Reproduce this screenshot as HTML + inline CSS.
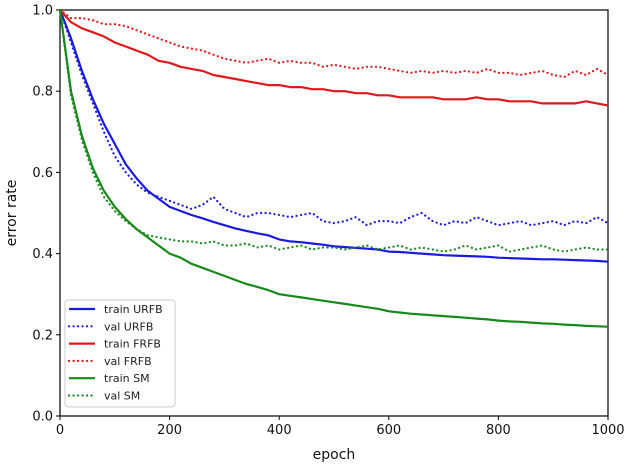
<!DOCTYPE html>
<html><head><meta charset="utf-8"><style>
html,body{margin:0;padding:0;background:#fff;}
svg{display:block;font-family:"DejaVu Sans","Liberation Sans",sans-serif;}
</style></head><body>
<svg id="chart" width="630" height="467">
<g id="axes"></g>
<g id="series"></g>
<g id="legend"></g>
</svg>
<script>
const xTicks=[0,200,400,600,800,1000];
const yTicks=[0.0,0.2,0.4,0.6,0.8,1.0];
const yTickLabels=["0.0","0.2","0.4","0.6","0.8","1.0"];
const epochStep=20;
const trainURFB=[1.0,0.93,0.85,0.78,0.72,0.67,0.62,0.585,0.555,0.535,0.515,0.505,0.495,0.487,0.478,0.47,0.462,0.456,0.45,0.445,0.435,0.43,0.428,0.425,0.422,0.418,0.416,0.414,0.412,0.41,0.405,0.404,0.402,0.4,0.398,0.396,0.395,0.394,0.393,0.392,0.39,0.389,0.388,0.387,0.386,0.386,0.385,0.384,0.383,0.382,0.38];
const valURFB=[1.0,0.92,0.84,0.77,0.70,0.64,0.6,0.57,0.55,0.54,0.53,0.52,0.51,0.52,0.54,0.51,0.5,0.49,0.5,0.5,0.495,0.49,0.495,0.5,0.48,0.475,0.48,0.49,0.47,0.48,0.48,0.475,0.49,0.5,0.48,0.47,0.48,0.475,0.49,0.48,0.47,0.475,0.48,0.47,0.475,0.48,0.47,0.48,0.475,0.49,0.475];
const trainFRFB=[1.0,0.97,0.955,0.945,0.935,0.92,0.91,0.9,0.89,0.875,0.87,0.86,0.855,0.85,0.84,0.835,0.83,0.825,0.82,0.815,0.815,0.81,0.81,0.805,0.805,0.8,0.8,0.795,0.795,0.79,0.79,0.785,0.785,0.785,0.785,0.78,0.78,0.78,0.785,0.78,0.78,0.775,0.775,0.775,0.77,0.77,0.77,0.77,0.775,0.77,0.765];
const valFRFB=[1.0,0.98,0.98,0.975,0.965,0.965,0.96,0.95,0.94,0.93,0.92,0.91,0.905,0.9,0.89,0.88,0.875,0.87,0.875,0.88,0.87,0.875,0.87,0.87,0.86,0.865,0.86,0.855,0.86,0.86,0.855,0.85,0.845,0.85,0.845,0.85,0.845,0.85,0.845,0.855,0.845,0.845,0.84,0.845,0.85,0.84,0.835,0.85,0.84,0.855,0.84];
const trainSM=[1.0,0.80,0.69,0.61,0.555,0.515,0.485,0.46,0.44,0.42,0.40,0.39,0.375,0.365,0.355,0.345,0.335,0.325,0.318,0.31,0.30,0.296,0.292,0.288,0.284,0.28,0.276,0.272,0.268,0.264,0.258,0.255,0.252,0.25,0.248,0.246,0.244,0.242,0.24,0.238,0.235,0.233,0.232,0.23,0.228,0.227,0.225,0.224,0.222,0.221,0.22];
const valSM=[1.0,0.79,0.68,0.6,0.54,0.505,0.48,0.46,0.445,0.44,0.435,0.43,0.43,0.425,0.43,0.42,0.42,0.425,0.415,0.42,0.41,0.415,0.42,0.41,0.415,0.415,0.41,0.415,0.42,0.41,0.415,0.42,0.41,0.415,0.41,0.405,0.41,0.42,0.41,0.415,0.42,0.405,0.41,0.415,0.42,0.41,0.405,0.41,0.415,0.41,0.41];
const seriesNames=["train URFB","val URFB","train FRFB","val FRFB","train SM","val SM"];
const seriesData=[trainURFB,valURFB,trainFRFB,valFRFB,trainSM,valSM];
const seriesColors=["#1a1adf","#1a1adf","#e0181a","#e0181a","#16891a","#16891a"];
const seriesDashed=[false,true,false,true,false,true];

const L=60,R=608,T=10,B=416;
const xs=v=>L+(v/1000)*(R-L);
const ys=v=>B-(v/1.0)*(B-T);
const NS="http://www.w3.org/2000/svg";
function mk(tag,attrs,parent){const e=document.createElementNS(NS,tag);for(const k in attrs)e.setAttribute(k,attrs[k]);parent.appendChild(e);return e;}
const axes=document.getElementById('axes'),ser=document.getElementById('series'),leg=document.getElementById('legend');

xTicks.forEach(t=>{
  const l=mk('line',{x1:xs(t),x2:xs(t),y1:B,y2:B+4,stroke:'#000','stroke-width':1},axes);
  
  
  const tx=mk('text',{x:xs(t),y:B+18,'text-anchor':'middle','font-size':13,fill:'#111'},axes);
  tx.textContent=String(t);
  
  
});
yTicks.forEach((t,i)=>{
  const l=mk('line',{x1:L-4,x2:L,y1:ys(t),y2:ys(t),stroke:'#000','stroke-width':1},axes);
  
  
  const tx=mk('text',{x:L-7,y:ys(t)+4.5,'text-anchor':'end','font-size':13,fill:'#111'},axes);
  tx.textContent=yTickLabels[i];
  
  
});
const xt=mk('text',{x:(L+R)/2,y:459,'text-anchor':'middle','font-size':14,fill:'#111'},axes);
xt.textContent='epoch';


const yt=mk('text',{x:0,y:0,'text-anchor':'middle','font-size':14,fill:'#111',transform:`translate(16,${(T+B)/2}) rotate(-90)`},axes);
yt.textContent='error rate';



seriesData.forEach((d,si)=>{
  const pts=d.map((v,i)=>xs(i*epochStep).toFixed(1)+','+ys(v).toFixed(1)).join(' ');
  const p=mk('polyline',{points:pts,fill:'none',stroke:seriesColors[si],'stroke-width':2.2,'stroke-linejoin':'round'},ser);
  if(seriesDashed[si]){p.setAttribute('stroke-dasharray','0.1,4.4');p.setAttribute('stroke-linecap','round');}
  
  
});

const frame=mk('rect',{x:L,y:T,width:R-L,height:B-T,fill:'none',stroke:'#000','stroke-width':1.2},axes);



const box=mk('rect',{x:65,y:300,width:110,height:107,rx:3,fill:'#fff','fill-opacity':0.85,stroke:'#ccc','stroke-width':1},leg);


seriesNames.forEach((n,i)=>{
  const y=309+i*17.3;
  const l=mk('line',{x1:69,x2:95,y1:y,y2:y,stroke:seriesColors[i],'stroke-width':2.2},leg);
  if(seriesDashed[i]){l.setAttribute('stroke-dasharray','0.1,4.4');l.setAttribute('stroke-linecap','round');}
  
  
  const t=mk('text',{x:104,y:y+4,'font-size':11,fill:'#222'},leg);
  t.textContent=n;
  
  
});
</script>
</body></html>
